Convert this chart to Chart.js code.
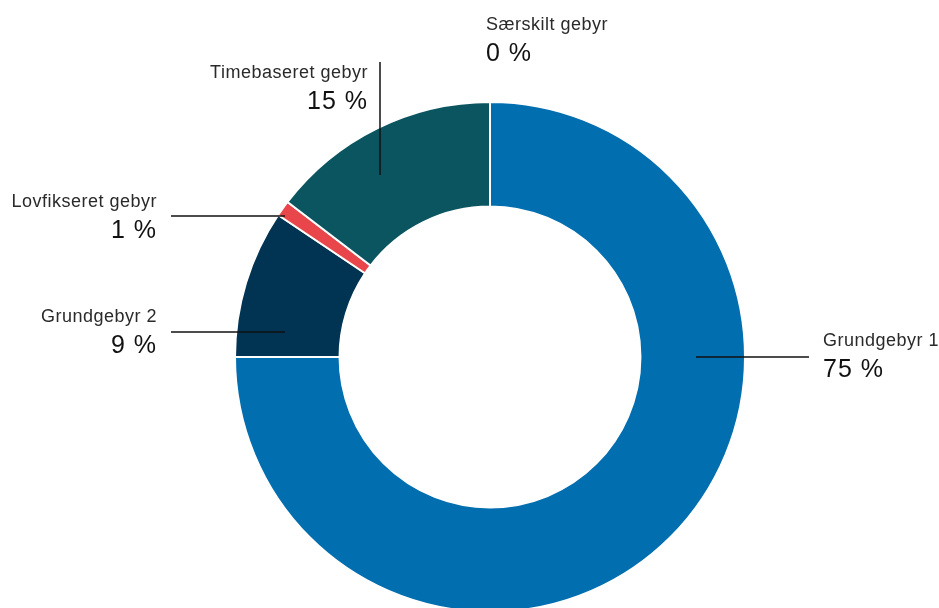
<!DOCTYPE html>
<html>
<head>
<meta charset="utf-8">
<script src="https://cdn.jsdelivr.net/npm/chart.js@4"></script>
<style>
  html, body { margin: 0; padding: 0; background: #fff; overflow: hidden; }
  #wrap { width: 939px; height: 608px; overflow: hidden; }
</style>
</head>
<body>
<div id="wrap"><canvas id="myChart" width="939" height="640"></canvas></div>
<script>
// categories and values, clockwise from the top
const categories = ['Grundgebyr 1', 'Grundgebyr 2', 'Lovfikseret gebyr', 'Timebaseret gebyr', 'Særskilt gebyr'];
const shares = [75.0, 9.4, 1.0, 14.6, 0.0];
const pctLabels = ['75 %', '9 %', '1 %', '15 %', '0 %'];
const colors = ['#006eaf', '#003452', '#e8464b', '#0a5560', '#7aa7c7'];

// where each label sits, relative to the doughnut centre (px)
const labelLayout = [
  { align: 'left',  tx: 333,  ty: -11,  line: [206, 0, 319, 0] },
  { align: 'right', tx: -333, ty: -35,  line: [-319, -25, -205, -25] },
  { align: 'right', tx: -333, ty: -150, line: [-319, -141, -205, -141] },
  { align: 'right', tx: -122, ty: -279, line: [-110, -295, -110, -182] },
  { align: 'left',  tx: -4,   ty: -327, line: null }
];

const calloutPlugin = {
  id: 'callouts',
  afterDatasetsDraw(chart) {
    const ctx = chart.ctx;
    const arc = chart.getDatasetMeta(0).data[0];
    const cx = arc.x, cy = arc.y;
    ctx.save();
    labelLayout.forEach((l, i) => {
      if (l.line) {
        ctx.beginPath();
        ctx.strokeStyle = '#111';
        ctx.lineWidth = 1.5;
        ctx.moveTo(cx + l.line[0], cy + l.line[1]);
        ctx.lineTo(cx + l.line[2], cy + l.line[3]);
        ctx.stroke();
      }
      ctx.textAlign = l.align;
      ctx.textBaseline = 'alphabetic';
      ctx.fillStyle = '#2a2a2a';
      ctx.font = '18px "Liberation Sans", Arial, sans-serif';
      ctx.letterSpacing = '0.5px';
      ctx.fillText(categories[i], cx + l.tx, cy + l.ty);
      ctx.fillStyle = '#111';
      ctx.font = '25px "Liberation Sans", Arial, sans-serif';
      ctx.letterSpacing = '1px';
      ctx.fillText(pctLabels[i], cx + l.tx, cy + l.ty + 31);
    });
    ctx.restore();
  }
};

new Chart(document.getElementById('myChart'), {
  type: 'doughnut',
  data: {
    labels: categories,
    datasets: [{
      data: shares,
      backgroundColor: colors,
      borderColor: '#ffffff',
      borderWidth: 2
    }]
  },
  options: {
    responsive: false,
    animation: false,
    cutout: '59%',
    layout: { padding: { left: 234, right: 193, top: 101, bottom: 27 } },
    plugins: {
      legend: { display: false },
      tooltip: { enabled: false }
    }
  },
  plugins: [calloutPlugin]
});
</script>
</body>
</html>
